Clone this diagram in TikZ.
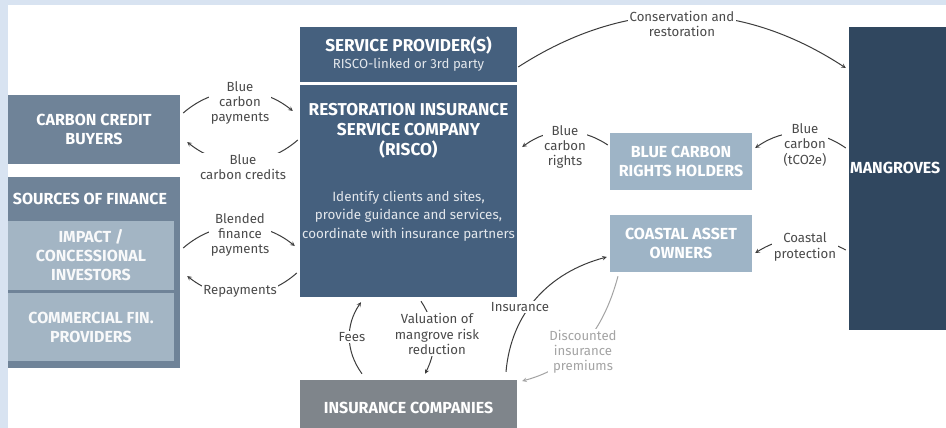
\documentclass[tikz,border=0pt]{standalone}
\usepackage{fontspec}
\setmainfont{Fira Sans}
\usetikzlibrary{arrows}

\definecolor{fondo}{HTML}{D8E3F1}
\definecolor{grisazul}{HTML}{6F8398}
\definecolor{claro}{HTML}{A3B5C4}
\definecolor{azul}{HTML}{45607E}
\definecolor{celeste}{HTML}{9EB4C6}
\definecolor{oscuro}{HTML}{30475F}
\definecolor{gris}{HTML}{7F858B}
\definecolor{texto}{HTML}{4A4A4A}
\definecolor{flecha}{HTML}{3C3C3C}
\definecolor{tenue}{HTML}{A4A4A4}

\tikzset{
  caja/.style={inner sep=0pt, align=center, text=white,
    font=\fontsize{16}{19}\selectfont\bfseries},
  titulo/.style={caja, font=\fontsize{17.2}{20}\selectfont\bfseries},
  etiqueta/.style={fill=white, inner sep=1.5pt, align=center, text=texto,
    font=\fontsize{13.2}{15.2}\selectfont},
  flujo/.style={->, draw=flecha, line width=1pt},
}

\begin{document}
\begin{tikzpicture}[x=1pt,y=1pt,>=stealth]

    % Fondo
    \fill[fondo] (0,0) rectangle (946,-428);
    \useasboundingbox (0,0) rectangle (946,-428);
    \clip (0,0) rectangle (946,-428);
    \fill[white] (8,-5) rectangle (950,-432);

    % Cajas de la izquierda
    \node[caja, fill=grisazul, minimum width=172pt, minimum height=69pt] (ccb) at (94,-129.5) {CARBON CREDIT\\BUYERS};
    \node[caja, fill=grisazul, minimum width=172pt, minimum height=191pt] (sof) at (94,-272.5) {};
    \node[caja] (sofhead) at (90,-199) {SOURCES OF FINANCE};
    \node[caja, fill=claro, minimum width=166pt, minimum height=69pt, text=white!92!claro] (imp) at (91,-255.5) {IMPACT /\\CONCESSIONAL\\INVESTORS};
    \node[caja, fill=claro, minimum width=166pt, minimum height=68pt, text=white!92!claro] (com) at (91,-327) {COMMERCIAL FIN.\\PROVIDERS};

    % Cajas del centro
    \node[titulo, fill=azul, minimum width=217pt, minimum height=55pt] (sp) at (408.5,-54.5) {SERVICE PROVIDER(S)\\[-3pt]{\mdseries\fontsize{13.2}{15}\selectfont\color{white!85!azul} RISCO-linked or 3rd party}};
    \node[caja, fill=azul, minimum width=217pt, minimum height=212pt] (risco) at (408.5,-191) {};
    \node[titulo] (riscohead) at (408.5,-131) {RESTORATION INSURANCE\\SERVICE COMPANY\\(RISCO)};
    \node[caja, font=\fontsize{13.4}{18.5}\selectfont, text=white!85!azul] (riscobody) at (408.5,-216) {Identify clients and sites,\\provide guidance and services,\\coordinate with insurance partners};
    \node[caja, fill=gris, minimum width=217pt, minimum height=56pt] (ins) at (408.5,-408) {INSURANCE COMPANIES};

    % Cajas de la derecha
    \node[caja, fill=celeste, minimum width=142pt, minimum height=57pt] (bcrh) at (681,-161.5) {BLUE CARBON\\RIGHTS HOLDERS};
    \node[caja, fill=celeste, minimum width=142pt, minimum height=57pt] (coa) at (681,-243.5) {COASTAL ASSET\\OWNERS};
    \node[caja, fill=oscuro, minimum width=131pt, minimum height=303pt] (mang) at (914.5,-178.5) {};
    \node[caja, anchor=west] (mangtxt) at (850,-168) {MANGROVES};

    % Flujos
    \draw[flujo] ([shift={(3,16.5)}]ccb.east) to[bend left=40] ([shift={(-7,80)}]risco.west);
    \draw[flujo] ([shift={(-2,51)}]risco.west) to[bend left=40] ([shift={(7,-12.5)}]ccb.east);
    \draw[flujo] ([shift={(3,24.5)}]sof.east) to[bend left=40] ([shift={(-5,-55)}]risco.west);
    \draw[flujo] ([shift={(-3,-82)}]risco.west) to[bend left=40] ([shift={(7,-3.5)}]sof.east);
    \draw[flujo] ([shift={(1,-12.5)}]sp.east) to[bend left=33] ([shift={(-3,110.5)}]mang.west);
    \draw[flujo] ([shift={(-2,16.5)}]bcrh.west) to[bend right=35] ([shift={(5,44)}]risco.east);
    \draw[flujo] ([shift={(-3,30.5)}]mang.west) to[bend right=35] ([shift={(3,13.5)}]bcrh.east);
    \draw[flujo] ([shift={(-3,-71.5)}]mang.west) to[bend right=30] ([shift={(3,-9.5)}]coa.east);
    \draw[flujo] ([shift={(12.5,-4)}]risco.south) to[bend left=30] ([shift={(16.5,6)}]ins.north);
    \draw[flujo] ([shift={(-46.5,6)}]ins.north) to[bend left=35] ([shift={(-47.5,-5)}]risco.south);
    \draw[flujo] ([shift={(97.5,8)}]ins.north) to[out=85,in=195] ([shift={(-3,-13.5)}]coa.west);
    \draw[flujo, draw=tenue] ([shift={(-63,-4)}]coa.south) to[out=-105,in=15] ([shift={(5,27)}]ins.east);

    % Etiquetas de los flujos
    \node[etiqueta] (lpay) at (240,-103) {Blue\\carbon\\payments};
    \node[etiqueta] (lcred) at (243,-167) {Blue\\carbon credits};
    \node[etiqueta] (lblend) at (240,-235) {Blended\\finance\\payments};
    \node[etiqueta] (lrepay) at (240,-291) {Repayments};
    \node[etiqueta] (lcons) at (682,-24) {Conservation and\\restoration};
    \node[etiqueta] (lrights) at (565,-147) {Blue\\carbon\\rights};
    \node[etiqueta] (ltco) at (805,-145) {Blue\\carbon\\(tCO2e)};
    \node[etiqueta] (lcoast) at (805,-247) {Coastal\\protection};
    \node[etiqueta] (lval) at (437,-334) {Valuation of\\mangrove risk\\reduction};
    \node[etiqueta] (lfees) at (352,-337) {Fees};
    \node[etiqueta] (linsur) at (520,-307) {Insurance};
    \node[etiqueta, text=tenue] (ldisc) at (583,-352) {Discounted\\insurance\\premiums};

\end{tikzpicture}
\end{document}
